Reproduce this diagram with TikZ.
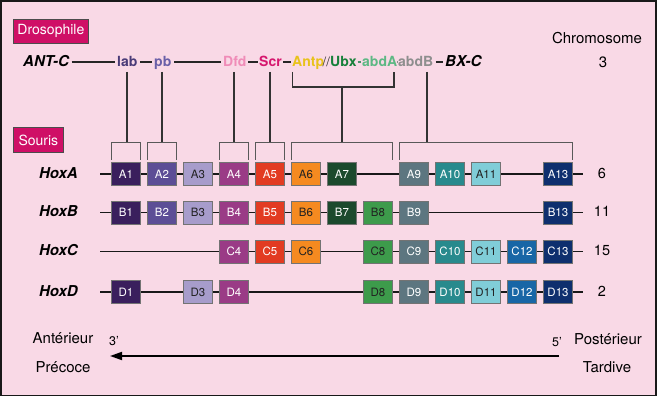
\documentclass[tikz,border=0pt]{standalone}
\usepackage{fontspec}
\setmainfont{TeX Gyre Heros}
\usetikzlibrary{arrows.meta,calc}
\definecolor{bg}{HTML}{F9D9E6}
\definecolor{tagc}{HTML}{CF0F66}
\definecolor{c1}{HTML}{3A1F5D}
\definecolor{c2}{HTML}{5C4E96}
\definecolor{c3}{HTML}{A79CCB}
\definecolor{c4}{HTML}{9A3B86}
\definecolor{c5}{HTML}{E23B22}
\definecolor{c6}{HTML}{F58A20}
\definecolor{c7}{HTML}{1B4A2D}
\definecolor{c8}{HTML}{3D9B4B}
\definecolor{c9}{HTML}{5D7680}
\definecolor{c10}{HTML}{288A8D}
\definecolor{c11}{HTML}{80CDD8}
\definecolor{c12}{HTML}{1866A6}
\definecolor{c13}{HTML}{0E2F6E}
\definecolor{glab}{HTML}{4A3B78}
\definecolor{gpb}{HTML}{6A5FA8}
\definecolor{gdfd}{HTML}{F08CB8}
\definecolor{gscr}{HTML}{D6176E}
\definecolor{gantp}{HTML}{E8C21A}
\definecolor{gubx}{HTML}{17803A}
\definecolor{gabda}{HTML}{5DB884}
\definecolor{gabdb}{HTML}{8E8E8E}
\definecolor{darktext}{HTML}{222222}
\begin{document}
\begin{tikzpicture}[x=1pt,y=-1pt,
  hox/.style={draw=black!55, line width=0.5pt, minimum width=29pt, minimum height=23pt, inner sep=0pt, font=\fontsize{11.5}{12}\selectfont},
  col1/.style={fill=c1, text=white}, col2/.style={fill=c2, text=white},
  col3/.style={fill=c3, text=darktext}, col4/.style={fill=c4, text=white},
  col5/.style={fill=c5, text=white}, col6/.style={fill=c6, text=darktext},
  col7/.style={fill=c7, text=white}, col8/.style={fill=c8, text=darktext},
  col9/.style={fill=c9, text=white}, col10/.style={fill=c10, text=white},
  col11/.style={fill=c11, text=darktext}, col12/.style={fill=c12, text=white},
  col13/.style={fill=c13, text=white},
  gene/.style={anchor=base west, inner sep=0pt, text height=11pt, text depth=1pt, font=\fontsize{14}{16}\selectfont\bfseries},
  cplx/.style={gene, font=\fontsize{15}{17}\selectfont\bfseries\itshape},
  rowlab/.style={anchor=east, inner sep=0pt, font=\fontsize{15}{17}\selectfont\bfseries\itshape},
  plain/.style={inner sep=0pt, font=\fontsize{15}{17}\selectfont},
  tag/.style={draw=black!70, line width=0.8pt, fill=tagc, text=white, inner sep=0pt, anchor=north west, font=\fontsize{14}{16}\selectfont},
  rowline/.style={line width=1.7pt, black!90},
  topline/.style={line width=1.2pt, black!85, shorten <=2.5pt, shorten >=2pt},
  drop/.style={line width=1.1pt, black!80},
  brk/.style={line width=1.1pt, black!65}
]
\useasboundingbox (0,0) rectangle (659,398);
\fill[white] (0,0) rectangle (659,398);
\fill[bg] (1,1) rectangle (656,395.5);
\draw[line width=1.4pt, black!90] (1,1) rectangle (656,395.5);

% tags
\node[tag, minimum width=75pt, minimum height=24pt] (dro) at (13,19) {Drosophile};
\node[tag, minimum width=50pt, minimum height=25pt] (sou) at (13,127) {Souris};

% Drosophila complexes
\node[cplx] (antc) at (23,67) {ANT-C};
\node[gene, text=glab] (lab) at (117,67) {lab};
\node[gene, text=gpb] (pb) at (154,67) {pb};
\node[gene, text=gdfd] (dfd) at (223,67) {Dfd};
\node[gene, text=gscr] (scr) at (259,67) {Scr};
\node[gene, text=gantp] (antp) at (292,67) {Antp};
\node[gene, font=\fontsize{13}{16}\selectfont, text=black!80] (brk) at (322.5,67) {//};
\node[gene, text=gubx] (ubx) at (330,67) {Ubx};
\node[gene, text=gabda] (abda) at (362,67) {abdA};
\node[gene, text=gabdb] (abdb) at (398,67) {abdB};
\node[cplx] (bxc) at (445,67) {BX-C};

\draw[topline] (antc) -- (lab);
\draw[topline] (lab) -- (pb);
\draw[topline] (pb) -- (dfd);
\draw[topline, shorten <=1.5pt, shorten >=1.5pt] (dfd) -- (scr);
\draw[topline, shorten <=1.5pt, shorten >=1.5pt] (scr) -- (antp);
\draw[line width=1.2pt, gabda!80!black, shorten <=0.8pt, shorten >=0.8pt] (ubx) -- (abda);
\draw[line width=1.2pt, gabdb] (abda.east) -- (abdb.west);
\draw[topline] (abdb) -- (bxc);

\node[plain] (chrom) at (597,38) {Chromosome};
\node[plain] (n3) at (603,62) {3};

% brackets
\foreach \l/\r in {111.5/140.5, 147.5/176.5, 219.5/248.5, 255.5/284.5, 291.5/392.5, 399.5/572.5}
  \draw[brk] (\l,160) -- (\l,142.5) -- (\r,142.5) -- (\r,160);
\coordinate (k1) at (127,142.5);
\coordinate (k2) at (162,142.5);
\coordinate (k4) at (234,142.5);
\coordinate (k5) at (270,142.5);
\coordinate (k6) at (342,142.5);
\coordinate (k9) at (427,142.5);

\draw[drop] (k1 |- 0,72) -- (k1);
\draw[drop] (k2 |- 0,72) -- (k2);
\draw[drop] (k4 |- 0,72) -- (k4);
\draw[drop] (k5 |- 0,72) -- (k5);
\draw[drop] (k9 |- 0,72) -- (k9);
\coordinate (ua) at (292.5,72);
\coordinate (ub) at (394,72);
\coordinate (um) at (342,87);
\draw[drop] (ua) -- (292.5,87) -- (394,87) -- (ub);
\draw[drop] (um) -- (k6);

% mouse rows
\foreach \r/\y/\lab/\num/\nlist in {
  A/174/HoxA/6/{1,2,3,4,5,6,7,9,10,11,13},
  B/212.5/HoxB/11/{1,2,3,4,5,6,7,8,9,13},
  C/251.5/HoxC/15/{4,5,6,8,9,10,11,12,13},
  D/292/HoxD/2/{1,3,4,8,9,10,11,12,13}} {
  \coordinate (s\r) at (100,\y);
  \coordinate (e\r) at (583,\y);
  \draw[rowline] (s\r) -- (e\r);
  \node[rowlab] (L\r) at (78,\y-1) {\lab};
  \node[plain, font=\fontsize{14.5}{16}\selectfont] (N\r) at (602,\y-1) {\num};
  \foreach \n in \nlist
    \node[hox, col\n] (\r\n) at ({126+36*(\n-1)},\y) {\r\n};
}

% bottom axis
\coordinate (ar5) at (559,356);
\coordinate (ar3) at (110,356);
\draw[line width=1.8pt, -{Triangle[length=12pt,width=8pt]}] (ar5) -- (ar3);
\node[plain, font=\fontsize{12.5}{13}\selectfont] (p3) at (114,341) {3’};
\node[plain, font=\fontsize{12.5}{13}\selectfont] (p5) at (557,342) {5’};
\node[plain] (ant) at (63,338) {Antérieur};
\node[plain] (pre) at (63,367) {Précoce};
\node[plain] (post) at (608,339) {Postérieur};
\node[plain] (tar) at (607,367) {Tardive};
\end{tikzpicture}
\end{document}
